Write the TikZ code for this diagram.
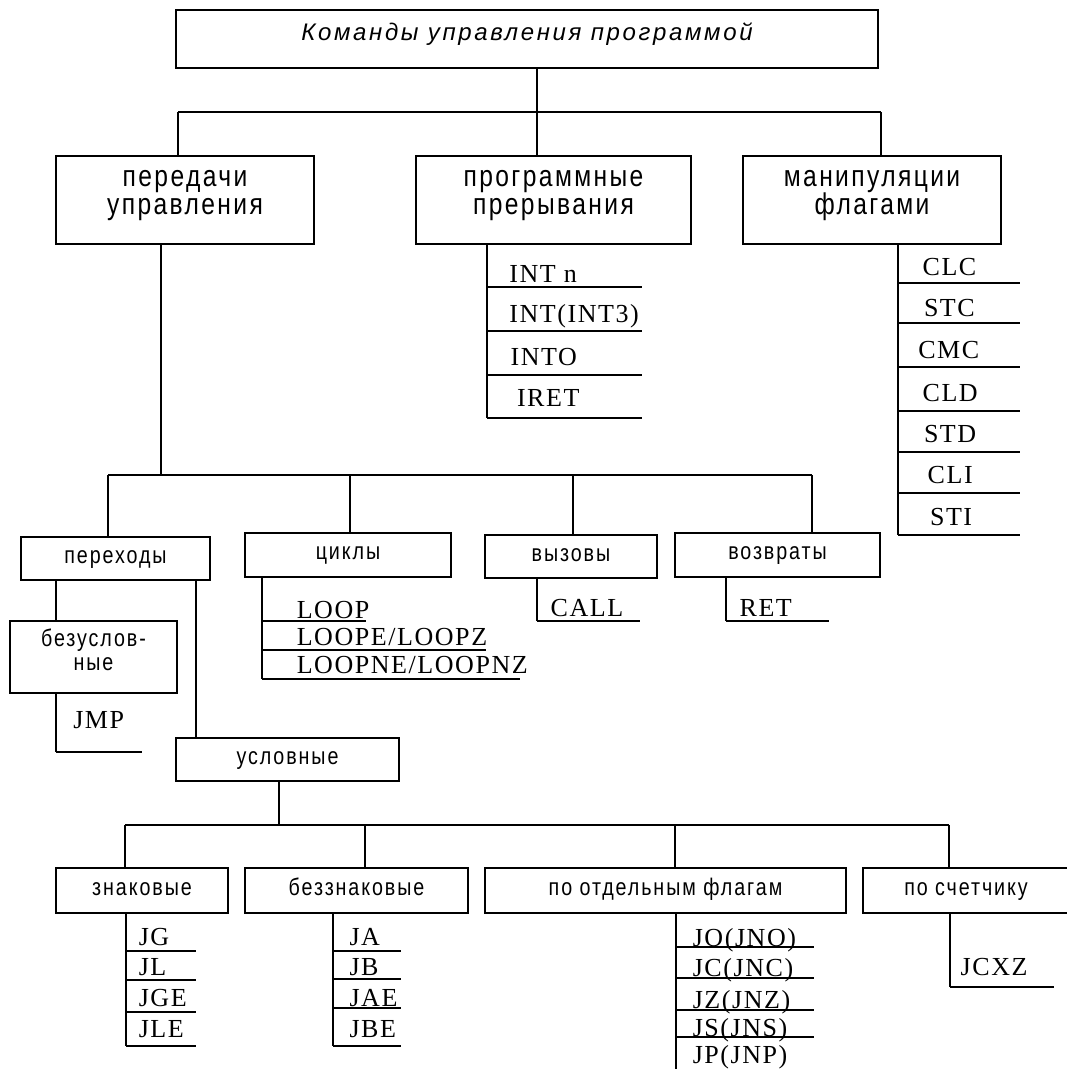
\documentclass[tikz,border=0pt]{standalone}
\usepackage{fontspec}
% fonts: spaced italic sans for the root, narrow spaced sans for the boxes, serif for mnemonics
\newfontfamily\headfont[LetterSpace=11]{Liberation Sans}
\newfontfamily\boxfont[FakeStretch=0.82,LetterSpace=8]{Liberation Sans}
\newfontfamily\cmdfont[LetterSpace=6]{Liberation Serif}
% one line whose baseline sits #1 below the box centre
\newcommand\oneline[2]{\smash{\raisebox{-#1}{#2}}}
% two centred lines, last baseline #1 below the centre, line distance #2
\newcommand\twoline[4]{\smash{\raisebox{-#1}{\vbox{\baselineskip=#2\lineskiplimit=-\maxdimen
  \halign{\hfil##\hfil\cr#3\cr#4\cr}}}}}
% a mnemonic row of width #1, text indented by #2
\newcommand\cmd[3]{\makebox[#1][l]{\hspace*{#2}#3}}
\begin{document}
\begin{tikzpicture}[x=1pt,y=-1pt,
  ln/.style={line width=1.9pt},
  box/.style 2 args={draw,line width=1.9pt,inner sep=0pt,outer sep=0pt,anchor=north west,
    minimum width=#1,minimum height=#2},
  head/.style={font=\headfont\itshape\fontsize{24}{28}\selectfont},
  big/.style={font=\boxfont\fontsize{30}{30}\selectfont},
  small/.style={font=\boxfont\fontsize{24}{24}\selectfont},
  cmdnode/.style={font=\cmdfont\fontsize{26}{26}\selectfont,inner sep=0pt,outer sep=0pt,
    anchor=south west,text depth=#1}]
\useasboundingbox (0,0) rectangle (1067,1069);

% ---------- root ----------
\node[box={702pt}{58pt},head] (top) at (176,10) {\oneline{1pt}{Команды управления программой}};

% ---------- second level ----------
\node[box={258pt}{88pt},big] (peredachi) at (56,156) {\twoline{14pt}{27.5pt}{передачи}{управления}};
\node[box={275pt}{88pt},big] (prerv) at (416,156) {\twoline{14pt}{27.5pt}{программные}{прерывания}};
\node[box={258pt}{88pt},big] (flagi) at (743,156) {\twoline{14pt}{27.5pt}{манипуляции}{флагами}};

\coordinate (busA) at (178,112);
\coordinate (busB) at (537,112);
\coordinate (busC) at (881,112);
\draw[ln] (top.south -| busB) -- (busB);
\draw[ln] (busA) -- (busC);
\draw[ln] (busA) -- (busA |- peredachi.north);
\draw[ln] (busB) -- (busB |- prerv.north);
\draw[ln] (busC) -- (busC |- flagi.north);

% ---------- software interrupts ----------
\node[cmdnode=4.4pt]  (int1) at (487,286.7) {\cmd{155pt}{22.4pt}{INT n}};
\node[cmdnode=8pt]    (int2) at (487,330.7) {\cmd{155pt}{22.4pt}{INT(INT3)}};
\node[cmdnode=10pt]   (int3) at (487,375)   {\cmd{155pt}{23.6pt}{INTO}};
\node[cmdnode=11.6pt] (int4) at (487,418.3) {\cmd{155pt}{30pt}{IRET}};
\draw[ln] (prerv.south -| int1.west) -- (int4.south west);

% ---------- flag manipulation ----------
\node[cmdnode=7.7pt] (f1) at (898,282.7) {\cmd{122pt}{24.6pt}{CLC}};
\node[cmdnode=6pt]   (f2) at (898,322.7) {\cmd{122pt}{26pt}{STC}};
\node[cmdnode=8.4pt] (f3) at (898,366.7) {\cmd{122pt}{20.3pt}{CMC}};
\node[cmdnode=9.7pt] (f4) at (898,410.7) {\cmd{122pt}{24.6pt}{CLD}};
\node[cmdnode=9.7pt] (f5) at (898,452)   {\cmd{122pt}{26pt}{STD}};
\node[cmdnode=9.7pt] (f6) at (898,493)   {\cmd{122pt}{29.7pt}{CLI}};
\node[cmdnode=9.3pt] (f7) at (898,535)   {\cmd{122pt}{32pt}{STI}};
\draw[ln] (flagi.south -| f1.west) -- (f7.south west);

% ---------- third level ----------
\node[box={189pt}{43.3pt},small] (perehody) at (21,536.7) {\oneline{5pt}{переходы}};
\node[box={206pt}{43.7pt},small] (cikly)    at (245,533)  {\oneline{5pt}{циклы}};
\node[box={172pt}{43.3pt},small] (vyzovy)   at (485,534.7){\oneline{5pt}{вызовы}};
\node[box={205pt}{44pt},small]   (vozvraty) at (675,532.7){\oneline{5pt}{возвраты}};

\coordinate (bus2A) at (108,475);
\coordinate (bus2P) at (161,475);
\coordinate (bus2C) at (350,475);
\coordinate (bus2V) at (573,475);
\coordinate (bus2R) at (812,475);
\draw[ln] (peredachi.south -| bus2P) -- (bus2P);
\draw[ln] (bus2A) -- (bus2R);
\draw[ln] (bus2A) -- (bus2A |- perehody.north);
\draw[ln] (bus2C) -- (bus2C |- cikly.north);
\draw[ln] (bus2V) -- (bus2V |- vyzovy.north);
\draw[ln] (bus2R) -- (bus2R |- vozvraty.north);

% loops
\node[cmdnode=2.4pt] (l1) at (262,620.7) {\cmd{103.7pt}{34.8pt}{LOOP}};
\node[cmdnode=5pt]   (l2) at (262,650)   {\cmd{223.5pt}{34.8pt}{LOOPE/LOOPZ}};
\node[cmdnode=5.7pt] (l3) at (262,679)   {\cmd{258pt}{34.8pt}{LOOPNE/LOOPNZ}};
\draw[ln] (cikly.south -| l1.west) -- (l3.south west);

% calls and returns
\node[cmdnode=4pt] (call) at (537,620.7) {\cmd{103.2pt}{13.7pt}{CALL}};
\draw[ln] (vyzovy.south -| call.west) -- (call.south west);
\node[cmdnode=4pt] (ret) at (726,620.7) {\cmd{103pt}{13.6pt}{RET}};
\draw[ln] (vozvraty.south -| ret.west) -- (ret.south west);

% jumps
\node[box={167pt}{72.3pt},small] (bezusl) at (10,621) {\twoline{13.5pt}{24pt}{безуслов-}{ные}};
\node[box={223pt}{43.3pt},small] (uslov) at (176,737.7) {\oneline{5.5pt}{условные}};
\coordinate (jl) at (56,0);
\coordinate (jr) at (196,0);
\draw[ln] (perehody.south -| jl) -- (bezusl.north -| jl);
\draw[ln] (perehody.south -| jr) -- (uslov.north -| jr);

\node[cmdnode=23.6pt] (jmp) at (56,752.3) {\cmd{86pt}{17.3pt}{JMP}};
\draw[ln] (bezusl.south -| jmp.west) -- (jmp.south west);

% ---------- conditional jumps ----------
\node[box={172pt}{44.4pt},small] (znak)    at (56,868.3)  {\oneline{4.5pt}{знаковые}};
\node[box={223pt}{44.4pt},small] (bezznak) at (245,868.3) {\oneline{4.5pt}{беззнаковые}};
\node[box={361pt}{44.4pt},small] (poflag)  at (485,868.3) {\oneline{4.5pt}{по отдельным флагам}};
\node[box={206pt}{44.4pt},small] (poschet) at (863,868.3) {\oneline{4.5pt}{по счетчику}};

\coordinate (bus3Y) at (279,825);
\coordinate (bus3A) at (125,825);
\coordinate (bus3B) at (365,825);
\coordinate (bus3C) at (675,825);
\coordinate (bus3D) at (949,825);
\draw[ln] (uslov.south -| bus3Y) -- (bus3Y);
\draw[ln] (bus3A) -- (bus3D);
\draw[ln] (bus3A) -- (bus3A |- znak.north);
\draw[ln] (bus3B) -- (bus3B |- bezznak.north);
\draw[ln] (bus3C) -- (bus3C |- poflag.north);
\draw[ln] (bus3D) -- (bus3D |- poschet.north);

% signed
\node[cmdnode=5.7pt] (s1) at (126,950.7) {\cmd{69.6pt}{12.8pt}{JG}};
\node[cmdnode=5pt]   (s2) at (126,980)   {\cmd{69.6pt}{12.8pt}{JL}};
\node[cmdnode=5pt]   (s3) at (126,1011.7){\cmd{69.6pt}{12.8pt}{JGE}};
\node[cmdnode=8.3pt] (s4) at (126,1046)  {\cmd{69.6pt}{12.8pt}{JLE}};
\draw[ln] (znak.south -| s1.west) -- (s4.south west);

% unsigned
\node[cmdnode=5.7pt] (u1) at (333,950.7) {\cmd{68pt}{16.5pt}{JA}};
\node[cmdnode=4pt]   (u2) at (333,979)   {\cmd{68pt}{16.5pt}{JB}};
\node[cmdnode=1.6pt] (u3) at (333,1008.3){\cmd{68pt}{16.5pt}{JAE}};
\node[cmdnode=8.3pt] (u4) at (333,1046)  {\cmd{68pt}{16.5pt}{JBE}};
\draw[ln] (bezznak.south -| u1.west) -- (u4.south west);

% single flags
\node[cmdnode=0.7pt] (p1) at (676,946.7) {\cmd{138pt}{16.8pt}{JO(JNO)}};
\node[cmdnode=1pt]   (p2) at (676,977.7) {\cmd{138pt}{16.8pt}{JC(JNC)}};
\node[cmdnode=1.7pt] (p3) at (676,1010)  {\cmd{138pt}{16.8pt}{JZ(JNZ)}};
\node[cmdnode=0pt]   (p4) at (676,1036.7){\cmd{138pt}{16.8pt}{JS(JNS)}};
\node[cmdnode=0pt]   (p5) at (676,1063)  {\cmd{138pt}{16.8pt}{JP(JNP)}};
\coordinate (pend) at (676,1072);
\draw[ln] (poflag.south -| p1.west) -- (pend);

% counter
\node[cmdnode=12.3pt] (c1) at (950,987.3) {\cmd{104pt}{10.7pt}{JCXZ}};
\draw[ln] (poschet.south -| c1.west) -- (c1.south west);

% rules under the mnemonics
\foreach \n in {int1,int2,int3,int4,f1,f2,f3,f4,f5,f6,f7,l1,l2,l3,call,ret,jmp,
                s1,s2,s3,s4,u1,u2,u3,u4,p1,p2,p3,p4,c1}
  \draw[ln] (\n.south west) -- (\n.south east);
\end{tikzpicture}
\end{document}
